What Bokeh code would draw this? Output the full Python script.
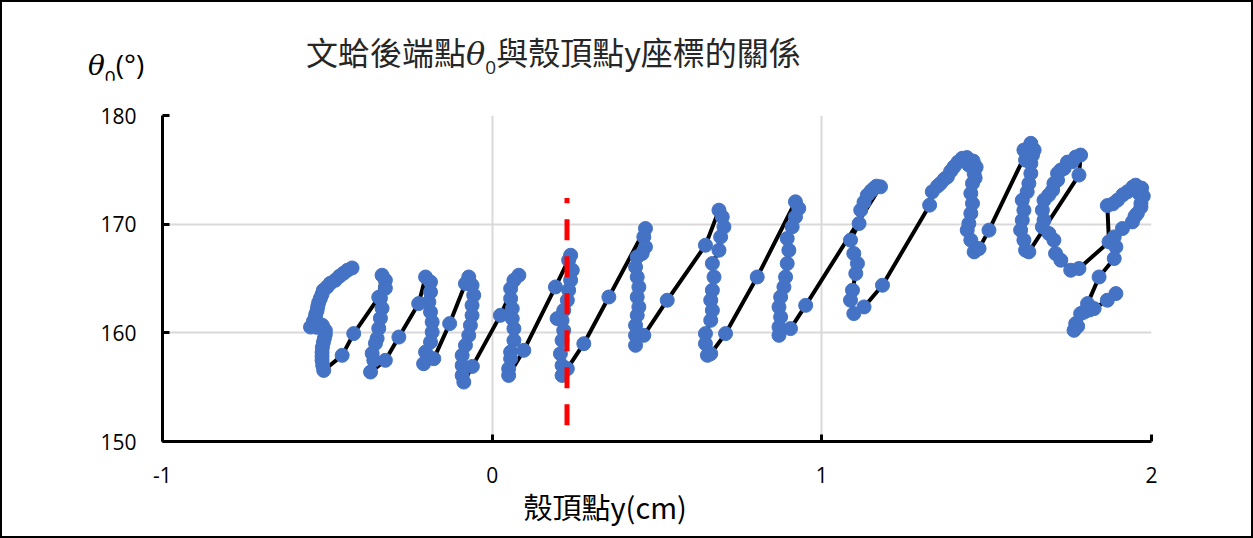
from bokeh.plotting import figure
from bokeh.models import Range1d, FixedTicker, Div, Title
from bokeh.layouts import column
from bokeh.embed import file_html
from bokeh.resources import INLINE

# ---------------- data ----------------
# 殼頂點 y 座標 (cm)
shell_y = [
    # column 1
    -0.425, -0.439, -0.451, -0.463, -0.476, -0.491, -0.501, -0.512, -0.516, -0.521,
    -0.526, -0.529, -0.531, -0.535, -0.536, -0.542, -0.551, -0.533, -0.515, -0.506,
    -0.506, -0.509, -0.512, -0.515, -0.516, -0.516, -0.516, -0.514, -0.511,
    -0.455, -0.420,
    # column 2
    -0.344, -0.334, -0.324, -0.324, -0.339, -0.334, -0.339, -0.344, -0.349, -0.354,
    -0.364, -0.359, -0.369,
    -0.324, -0.283, -0.223,
    # column 3
    -0.202, -0.187, -0.187, -0.192, -0.187, -0.182, -0.182, -0.187, -0.202, -0.208, -0.177,
    -0.129, -0.081,
    # column 4
    -0.071, -0.061, -0.056, -0.061, -0.061, -0.066, -0.071, -0.081, -0.091, -0.091, -0.091, -0.086,
    -0.060, 0.025,
    # column 5
    0.081, 0.066, 0.056, 0.056, 0.061, 0.061, 0.066, 0.066, 0.056, 0.056, 0.050, 0.050,
    0.096, 0.192,
    # column 6
    0.238, 0.232, 0.243, 0.238, 0.232, 0.228, 0.217, 0.212, 0.197, 0.217, 0.212, 0.207, 0.212, 0.212,
    0.228, 0.278, 0.354,
    # column 7
    0.465, 0.460, 0.465, 0.455, 0.440, 0.435, 0.440, 0.445, 0.440, 0.445, 0.440, 0.435, 0.435, 0.435,
    0.460, 0.531, 0.647,
    # column 8
    0.688, 0.698, 0.703, 0.693, 0.688, 0.668, 0.673, 0.668, 0.663, 0.668, 0.663, 0.647, 0.647, 0.653, 0.663,
    0.708, 0.804,
    # column 9
    0.920, 0.930, 0.920, 0.910, 0.895, 0.900, 0.895, 0.890, 0.885, 0.875, 0.870, 0.875, 0.870, 0.870, 0.905,
    0.951,
    # column 10
    1.178, 1.166, 1.158, 1.149, 1.138, 1.128, 1.118, 1.113, 1.087, 1.097, 1.108, 1.103, 1.093, 1.087,
    1.097, 1.128,
    1.184, 1.327,
    # column 11
    1.335, 1.351, 1.360, 1.372, 1.381, 1.391, 1.401, 1.413, 1.426, 1.440, 1.446, 1.459, 1.468, 1.462,
    1.465, 1.457, 1.452, 1.457, 1.452, 1.446, 1.441, 1.452, 1.462, 1.477,
    1.507,
    # column 12
    1.634, 1.627, 1.613, 1.644, 1.639, 1.618, 1.634, 1.634, 1.628, 1.623, 1.608, 1.613, 1.608, 1.603,
    1.613, 1.618, 1.628,
    1.780,
    # column 13
    1.785, 1.770, 1.760, 1.745, 1.735, 1.725, 1.715, 1.715, 1.704, 1.700, 1.688, 1.674, 1.669, 1.674,
    1.669, 1.689, 1.704, 1.709, 1.725, 1.755, 1.780,
    1.871,
    # column 14
    1.866, 1.883, 1.897, 1.913, 1.927, 1.943, 1.952, 1.970, 1.962, 1.975, 1.968, 1.968, 1.957, 1.950,
    1.942, 1.912, 1.887, 1.892, 1.887, 1.841, 1.806, 1.785, 1.770, 1.765, 1.776, 1.795, 1.812, 1.826,
    1.866, 1.892,
]

# 文蛤後端點 θ0 (°)
theta0 = [
    # column 1
    165.97, 165.76, 165.48, 165.21, 164.84, 164.56, 164.22, 163.92, 163.55, 163.18,
    162.81, 162.44, 162.07, 161.71, 161.43, 161.06, 160.53, 160.51, 160.69, 160.23,
    159.86, 159.49, 159.12, 158.66, 158.20, 157.83, 157.47, 157.00, 156.54,
    157.93, 159.93,
    # column 2
    163.27, 165.30, 164.84, 164.10, 163.18, 162.26, 161.34, 160.41, 159.49, 159.03,
    158.11, 157.47, 156.39,
    157.47, 159.61, 162.69,
    # column 3
    165.14, 164.68, 163.76, 162.84, 161.92, 161.00, 160.07, 159.15, 158.23, 157.16, 157.62,
    160.85, 164.53,
    # column 4
    165.14, 164.38, 163.46, 162.53, 161.61, 160.69, 159.77, 158.85, 157.93, 157.00, 156.08, 155.47,
    156.91, 161.61,
    # column 5
    165.30, 164.84, 164.07, 163.15, 162.23, 161.31, 160.39, 159.31, 158.23, 157.62, 156.70, 156.08,
    158.39, 164.22,
    # column 6
    167.14, 166.68, 165.76, 164.84, 163.92, 163.00, 162.07, 161.15, 161.31, 160.23, 159.31, 158.08, 157.00, 156.08,
    156.70, 159.00, 163.30,
    # column 7
    169.60, 168.83, 167.91, 167.30, 166.99, 166.06, 165.14, 164.22, 163.30, 162.38, 161.61, 160.69, 159.77, 158.85,
    159.77, 163.00, 168.06,
    # column 8
    171.29, 170.67, 169.75, 168.83, 167.60, 166.38, 165.14, 163.92, 163.00, 162.07, 161.15, 159.93, 159.00, 157.93, 158.08,
    159.93, 165.14,
    # column 9
    172.06, 171.45, 170.67, 169.75, 168.68, 167.60, 166.38, 165.14, 164.22, 163.30, 162.38, 161.46, 160.53, 159.77, 160.39,
    162.53,
    # column 10
    173.44, 173.50, 173.29, 173.04, 172.67, 172.02, 171.29, 170.06, 168.53, 167.30, 166.38, 165.46, 163.92, 163.00,
    161.77, 162.38,
    164.38, 171.75,
    # column 11
    172.98, 173.50, 173.75, 174.15, 174.36, 174.88, 175.28, 175.71, 176.06, 176.13, 175.44, 175.81, 175.25, 174.67,
    174.24, 173.75, 172.83, 171.91, 170.99, 170.06, 169.45, 168.53, 167.45, 167.76,
    169.45,
    # column 12
    177.44, 176.91, 176.82, 176.82, 176.36, 175.90, 175.59, 174.67, 173.75, 172.98, 172.21, 171.29, 170.37, 169.45,
    168.53, 167.60, 167.45,
    174.52,
    # column 13
    176.36, 176.18, 175.74, 175.71, 175.13, 174.98, 174.67, 174.06, 173.75, 173.13, 172.67, 172.21, 171.29, 170.37,
    169.75, 169.14, 168.53, 167.30, 166.68, 165.76, 165.92,
    168.37,
    # column 14
    171.71, 171.87, 172.21, 172.70, 172.98, 173.41, 173.59, 173.32, 172.83, 172.58, 171.91, 171.57, 170.99, 170.74,
    170.21, 169.60, 168.83, 167.91, 166.84, 165.14, 162.69, 161.77, 160.85, 160.23, 160.60, 161.90, 162.10, 162.23,
    163.00, 163.61,
]

# red dashed reference line
ref_x = [0.227, 0.227]
ref_y = [151.5, 172.4]

x_ticks = [-1, 0, 1, 2]
y_ticks = [150, 160, 170, 180]

title_parts = ["文蛤後端點", "θ", "0", "與殼頂點y座標的關係"]
x_title = "殼頂點y(cm)"
y_title_parts = ["θ", "0", "(°)"]

# ---------------- layout ----------------
B = 2                      # outer border width (css)
W = 1253 - 2 * B           # inner width
TOP_H = 78                 # header (title + y title) height, page y 2..80
FIG_H = 538 - 2 * B - TOP_H
FRAME_TOP, FRAME_BOTTOM = 115, 441   # page pixels
FRAME_LEFT, FRAME_RIGHT = 162, 1151

p = figure(width=W, height=FIG_H, x_range=Range1d(-1, 2), y_range=Range1d(150, 180),
           output_backend="svg", toolbar_location=None,
           min_border_left=FRAME_LEFT - B, min_border_right=W - (FRAME_RIGHT - B),
           min_border_top=FRAME_TOP - (B + TOP_H),
           min_border_bottom=(B + TOP_H + FIG_H) - FRAME_BOTTOM)
p.outline_line_color = None
p.background_fill_color = "white"
p.border_fill_color = "white"

for ax in (p.xaxis[0], p.yaxis[0]):
    ax.axis_line_color = "black"
    ax.axis_line_width = 3
    ax.major_tick_in = 7
    ax.major_tick_out = 0
    ax.major_tick_line_color = "black"
    ax.major_tick_line_width = 3
    ax.minor_tick_line_color = None
    ax.major_label_text_font = "Open Sans"
    ax.major_label_text_font_size = "21px"
    ax.major_label_text_color = "#000000"
p.xaxis[0].ticker = FixedTicker(ticks=x_ticks)
p.yaxis[0].ticker = FixedTicker(ticks=y_ticks)
p.xaxis[0].major_label_overrides = {t: str(t) for t in x_ticks}
p.xaxis[0].major_label_standoff = 25
p.yaxis[0].major_label_standoff = 26

p.xgrid[0].ticker = FixedTicker(ticks=x_ticks)
p.ygrid[0].ticker = FixedTicker(ticks=y_ticks)
p.grid.grid_line_color = "#d9d9d9"
p.grid.grid_line_width = 2

p.line(shell_y, theta0, line_color="black", line_width=4)
p.scatter(shell_y, theta0, size=14, fill_color="#4472C4", line_color="#4472C4")
p.line(ref_x, ref_y, line_color="#ff0000", line_width=5, line_dash="21 16")

# x title below the axis
xt = Title(text=x_title, align="left", offset=523 - FRAME_LEFT, standoff=0,
           text_font="Noto Sans CJK TC", text_font_size="29px",
           text_font_style="normal", text_color="#000000")
try:
    xt.standoff = -6
except Exception:
    pass
p.add_layout(xt, "below")

# header with chart title and y-axis title (mixed styles)
theta_css = "font-family:'DejaVu Serif';font-style:italic;"
sub_css = "font-family:'Open Sans';position:relative;top:9px;font-size:19px;"
header_html = (
    f'<div style="position:relative;width:{W}px;height:{TOP_H}px;">'
    f'<div style="position:absolute;left:{88 - B}px;top:{68 - B - 15 - 4}px;font-size:28px;line-height:30px;'
    f'white-space:nowrap;font-family:\'Open Sans\';color:#000000;">'
    f'<span style="{theta_css}">{y_title_parts[0]}</span>'
    f'<span style="{sub_css}">{y_title_parts[1]}</span>{y_title_parts[2]}</div>'
    f'<div style="position:absolute;left:{306 - B}px;top:{55 - B - 17 - 4}px;font-size:32px;line-height:34px;'
    f'white-space:nowrap;font-family:\'Noto Sans CJK TC\';color:#262626;">'
    f'{title_parts[0]}<span style="{theta_css}">{title_parts[1]}</span>'
    f'<span style="{sub_css}">{title_parts[2]}</span>{title_parts[3]}</div>'
    f'</div>'
)
header = Div(text=header_html, width=W, height=TOP_H, margin=0, styles={"overflow": "visible"})

layout = column(header, p, spacing=0, styles={"border": f"{B}px solid #000000"})

open("out.html", "w").write(file_html(layout, INLINE))
